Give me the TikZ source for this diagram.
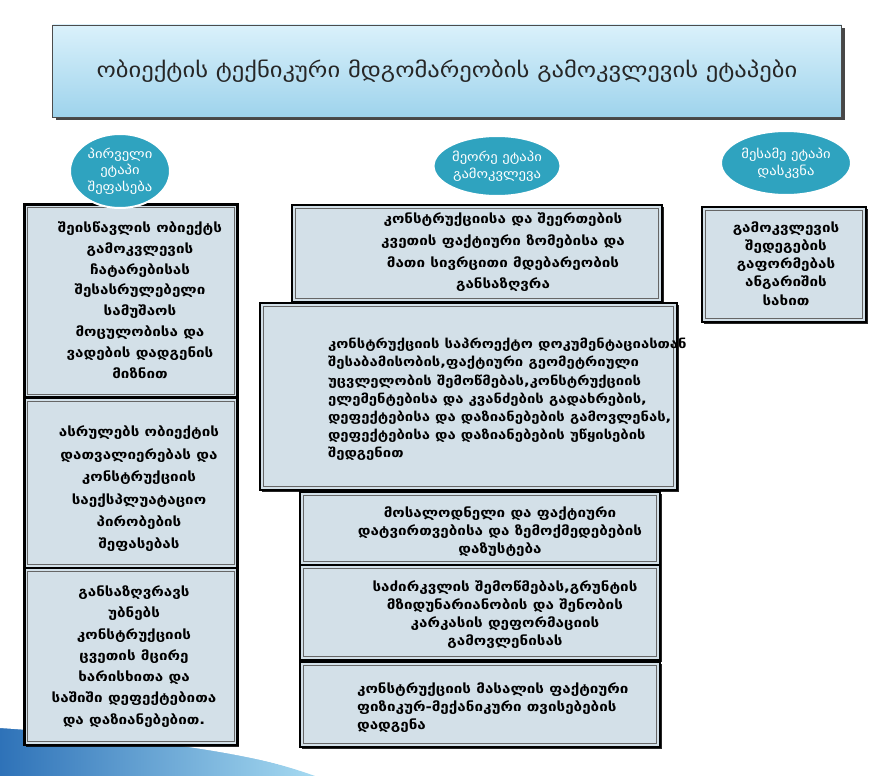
\documentclass[tikz,border=0pt]{standalone}
\usepackage{fontspec}
\setmainfont{DejaVu Sans}
\newfontfamily\geowide[FakeStretch=1.17]{DejaVu Sans}
\usetikzlibrary{shapes.geometric,shadows}
\definecolor{cardfill}{HTML}{D3E0E8}
\definecolor{stagefill}{HTML}{2FA3BF}
\definecolor{titletop}{HTML}{DAF1FB}
\definecolor{titlebot}{HTML}{9ED3EC}
\definecolor{swooshA}{HTML}{2E72B8}
\definecolor{swooshB}{HTML}{A6DAF1}
\tikzset{
  card/.style={draw=black, line width=2.2pt, fill=cardfill, inner sep=0pt,
    drop shadow={shadow xshift=1.5pt, shadow yshift=-1.5pt, fill=black, opacity=0.85},
    path picture={\draw[black!60, line width=0.9pt]
      ([shift={(3.4pt,3.4pt)}]path picture bounding box.south west) rectangle
      ([shift={(-3.4pt,-3.4pt)}]path picture bounding box.north east);}},
  body/.style={font=\geowide\bfseries\fontsize{13}{18.2}\selectfont, inner sep=0pt},
  stagebox/.style={ellipse, fill=stagefill, draw=white, line width=2pt, text=white,
    font=\geowide\fontsize{12.5}{16.5}\selectfont, align=center, inner sep=0pt},
  banner/.style={draw=black!70, line width=0.8pt, top color=titletop, bottom color=titlebot,
    drop shadow={shadow xshift=3pt, shadow yshift=-3pt, fill=black!80, opacity=0.9},
    font=\geowide\fontsize{21}{25}\selectfont, text=black!85, inner sep=0pt}
}
\begin{document}
\begin{tikzpicture}[x=1pt,y=-1pt]
\useasboundingbox (0,0) rectangle (894,776);
\fill[white] (0,0) rectangle (894,776);
% soft blue swoosh along the lower left corner
\shade[left color=swooshA, right color=swooshB]
  (0,722) .. controls (90,730) and (220,742) .. (315,776) -- (0,776) -- cycle;
\fill[white] (0,714) .. controls (90,722) and (220,736) .. (300,770)
  .. controls (220,746) and (90,734) .. (0,728) -- cycle;

% heading
\node[banner, minimum width=789, minimum height=92] (head) at (447,71)
  {ობიექტის ტექნიკური მდგომარეობის გამოკვლევის ეტაპები};

% first column
\node[card, minimum width=213, minimum height=193] (l1) at (131,301) {};
\node[card, minimum width=213, minimum height=170] (l2) at (131,483) {};
\node[card, minimum width=213, minimum height=177] (l3) at (131,656.5) {};
% second column
\node[card, minimum width=370, minimum height=97] (m1) at (477,253.5) {};
\node[card, minimum width=417, minimum height=187] (m2) at (468.5,396.5) {};
\node[card, minimum width=360, minimum height=73] (m3) at (480,528.5) {};
\node[card, minimum width=360, minimum height=95] (m4) at (480,612.5) {};
\node[card, minimum width=360, minimum height=85] (m5) at (480,704.5) {};
% third column
\node[card, minimum width=164, minimum height=115] (r1) at (784,264.5) {};

% texts of the cards
\node[body, align=center, font=\geowide\bfseries\fontsize{13}{20.8}\selectfont] (t-l1)
  at ([xshift=9pt, yshift=1pt]l1.center)
  {შეისწავლის ობიექტს\\გამოკვლევის\\ჩატარებისას\\შესასრულებელი\\სამუშაოს\\მოცულობისა და\\ვადების დადგენის\\მიზნით};
\node[body, align=center, font=\geowide\bfseries\fontsize{13}{22.4}\selectfont] (t-l2)
  at ([xshift=8pt, yshift=-6pt]l2.center)
  {ასრულებს ობიექტის\\დათვალიერებას და\\კონსტრუქციის\\საექსპლუატაციო\\პირობების\\შეფასებას};
\node[body, align=center, font=\geowide\bfseries\fontsize{13}{21.3}\selectfont] (t-l3)
  at ([xshift=3pt, yshift=0pt]l3.center)
  {განსაზღვრავს\\უბნებს\\კონსტრუქციის\\ცვეთის მცირე\\ხარისხითა და\\საშიში დეფექტებითა\\და დაზიანებებით.};
\node[body, align=center, font=\geowide\bfseries\fontsize{13}{21.7}\selectfont] (t-m1)
  at ([xshift=26pt, yshift=1pt]m1.center)
  {კონსტრუქციისა და შეერთების\\კვეთის ფაქტიური ზომებისა და\\მათი სივრცითი მდებარეობის\\განსაზღვრა};
\node[body, align=left, anchor=west, font=\geowide\bfseries\fontsize{12.7}{18.2}\selectfont] (t-m2)
  at ([xshift=69pt, yshift=-3pt]m2.west)
  {კონსტრუქციის საპროექტო დოკუმენტაციასთან\\შესაბამისობის,ფაქტიური გეომეტრიული\\უცვლელობის შემოწმებას,კონსტრუქციის\\ელემენტებისა და კვანძების გადახრების,\\დეფექტებისა და დაზიანებების გამოვლენას,\\დეფექტებისა და დაზიანებების უწყისების\\შედგენით};
\node[body, align=center] (t-m3) at ([xshift=20pt, yshift=-3pt]m3.center)
  {მოსალოდნელი და ფაქტიური\\დატვირთვებისა და ზემოქმედებების\\დაზუსტება};
\node[body, align=center] (t-m4) at ([xshift=25pt, yshift=-2pt]m4.center)
  {საძირკვლის შემოწმებას,გრუნტის\\მზიდუნარიანობის და შენობის\\კარკასის დეფორმაციის\\გამოვლენისას};
\node[body, align=left, anchor=west] (t-m5) at ([xshift=58pt, yshift=-3pt]m5.west)
  {კონსტრუქციის მასალის ფაქტიური\\ფიზიკურ-მექანიკური თვისებების\\დადგენა};
\node[body, align=center] (t-r1) at ([xshift=2pt, yshift=1pt]r1.center)
  {გამოკვლევის\\შედეგების\\გაფორმებას\\ანგარიშის\\სახით};

% stage labels
\node[stagebox, minimum width=100, minimum height=74] (s1) at (120,171)
  {პირველი\\ეტაპი\\შეფასება};
\node[stagebox, minimum width=118, minimum height=60] (s2) at (497,166)
  {მეორე ეტაპი\\გამოკვლევა};
\node[stagebox, minimum width=130, minimum height=64] (s3) at (786,163)
  {მესამე ეტაპი\\დასკვნა};
\end{tikzpicture}
\end{document}
